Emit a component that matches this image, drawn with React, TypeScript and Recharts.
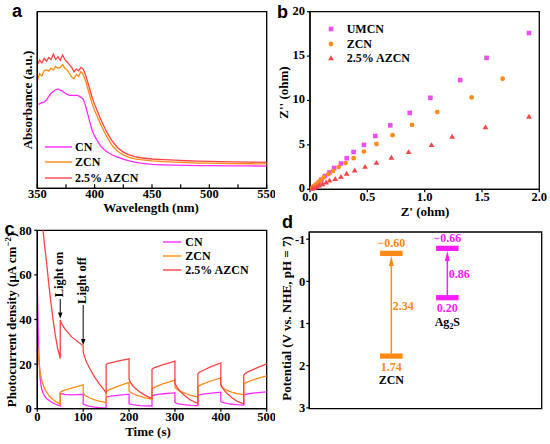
import React from 'react';
import {
  LineChart, Line, ScatterChart, Scatter, ComposedChart, XAxis, YAxis, ZAxis,
  Legend, ReferenceArea, ReferenceLine, ReferenceDot,
} from 'recharts';

/* ── shared styling ─────────────────────────────────────────── */
const SERIF = '"Liberation Serif", "Times New Roman", serif';
const SANS = '"Liberation Sans", Arial, sans-serif';
const AXIS = { stroke: '#000', strokeWidth: 1.3 };
const TICKLINE = { stroke: '#000', strokeWidth: 1.2 };
const TICK = { fontFamily: SERIF, fontWeight: 700, fontSize: 12.5, fill: '#000' };
const AX_W = 30; // y-axis box width
const AX_H = 25; // x-axis box height

const MAGENTA = '#ff2bff';
const ORANGE = '#ff8a14';
const RED = '#ff4242';

/* ── (a) UV-vis absorbance ──────────────────────────────────── */
const aWave = [350, 352, 354, 356, 358, 360, 362, 364, 366, 368, 370, 372, 374, 376, 378, 380, 382, 384, 386, 388, 390, 392, 394, 396, 398,
  400, 405, 410, 415, 420, 425, 430, 435, 440, 450, 460, 470, 480, 490, 500, 520, 535, 550];
const aCN = [47.5, 47.8, 48.5, 48.8, 50, 52, 53.8, 55, 55.8, 56.3, 55.6, 55, 54, 53.2, 52.6, 52.7, 52.5, 52.8, 52.4, 51.5, 50.5, 47, 42, 37, 32.5,
  29.5, 24, 21, 19, 17.6, 16.5, 15.5, 14.8, 14.3, 13.6, 13.3, 13.1, 12.95, 12.85, 12.8, 12.7, 12.65, 12.6];
const aZCN = [61, 65, 63.5, 66.5, 67, 66.5, 68, 67, 69, 68, 68.5, 70, 68, 67, 65, 63, 62, 64.5, 63.5, 66, 64.5, 61, 56.5, 52, 47.5,
  44, 36.5, 29.8, 24.5, 21, 18.9, 17.5, 16.7, 16.2, 15.5, 15.1, 14.8, 14.5, 14.3, 14.2, 14.0, 13.9, 13.8];
const aAZCN = [70, 72.5, 71, 73.5, 72, 74, 72.8, 76, 73, 74.5, 72.5, 75.5, 73, 71.5, 70, 68.5, 66, 67.5, 66.5, 68.5, 67.5, 64.5, 60, 55.5, 51,
  47.5, 39.5, 32.5, 27, 23, 20.5, 18.9, 17.9, 17.3, 16.6, 16.2, 15.9, 15.6, 15.4, 15.2, 15.0, 14.8, 14.7];
const aTicks = [350, 375, 400, 425, 450, 475, 500, 525, 550];
const aOrder = ['CN', 'ZCN', '2.5% AZCN'];

/* ── (b) Nyquist plot ───────────────────────────────────────── */
const bUMCNx = [0.02, 0.03, 0.04, 0.06, 0.08, 0.10, 0.13, 0.17, 0.21, 0.27, 0.32, 0.38, 0.47, 0.57, 0.70, 0.87, 1.05, 1.31, 1.54, 1.91];
const bUMCNy = [0.1, 0.2, 0.35, 0.55, 0.8, 1.1, 1.5, 1.9, 2.4, 2.9, 3.5, 4.2, 5.0, 6.0, 7.2, 8.6, 10.3, 12.3, 14.8, 17.6];
const bZCNx = [0.02, 0.03, 0.05, 0.07, 0.09, 0.12, 0.16, 0.20, 0.25, 0.31, 0.38, 0.47, 0.58, 0.72, 0.89, 1.11, 1.41, 1.68];
const bZCNy = [0.15, 0.3, 0.5, 0.75, 1.0, 1.35, 1.7, 2.05, 2.5, 2.95, 3.5, 4.25, 5.1, 6.1, 7.25, 8.7, 10.35, 12.45];
const bAZCNx = [0.02, 0.04, 0.06, 0.08, 0.11, 0.14, 0.17, 0.22, 0.27, 0.32, 0.39, 0.48, 0.58, 0.71, 0.86, 1.06, 1.24, 1.53, 1.91];
const bAZCNy = [0.1, 0.2, 0.3, 0.45, 0.6, 0.8, 1.0, 1.18, 1.43, 1.78, 2.15, 2.55, 3.0, 3.58, 4.22, 5.0, 5.95, 7.0, 8.2];
const bXTicks = [0, 0.5, 1, 1.5, 2];
const bYTicks = [0, 5, 10, 15, 20];
const bOrder = ['UMCN', 'ZCN', '2.5% AZCN'];

/* ── (c) transient photocurrent ─────────────────────────────── */
const cTime = [0, 2, 4, 6, 8, 10, 13, 16, 20, 25, 30, 35, 40, 45, 50,
  50, 53, 60, 75, 100,
  100, 103, 108, 115, 125, 135, 150,
  150, 153, 160, 175, 200,
  200, 203, 208, 215, 225, 235, 250,
  250, 253, 260, 275, 300,
  300, 303, 308, 315, 325, 335, 350,
  350, 353, 360, 375, 400,
  400, 403, 408, 415, 425, 435, 450,
  450, 453, 460, 475, 500];
const cCN = [57, 35, 22, 14, 10.5, 8.5, 6.8, 5.6, 4.6, 3.8, 3.1, 2.5, 2.0, 1.6, 1.3,
  6.8, 6.7, 6.4, 6.2, 6.4,
  2.2, 1.8, 1.4, 1.0, 0.7, 0.5, 0.3,
  5.1, 5.3, 5.6, 6.0, 6.5,
  2.2, 2.0, 1.8, 1.6, 1.4, 1.3, 1.2,
  5.8, 6.0, 6.3, 6.7, 7.1,
  2.8, 2.5, 2.2, 1.9, 1.7, 1.5, 1.4,
  6.0, 6.2, 6.5, 6.9, 7.4,
  3.2, 2.9, 2.6, 2.3, 2.0, 1.8, 1.6,
  6.2, 6.4, 6.7, 7.1, 7.5];
const cZCN = [30, 24, 20, 17, 14.5, 12.5, 10.5, 9, 7.5, 6, 4.9, 4, 3.2, 2.6, 2.0,
  7.3, 7.8, 8.3, 9.2, 10.7,
  7.0, 6.3, 5.5, 4.8, 4.0, 3.4, 2.8,
  7.7, 8.1, 8.8, 10.0, 11.8,
  8.0, 7.4, 6.8, 6.2, 5.5, 4.9, 4.3,
  8.8, 9.3, 10.0, 11.2, 12.8,
  9.6, 8.9, 8.2, 7.5, 6.7, 6.0, 5.2,
  9.8, 10.3, 11.0, 12.2, 13.8,
  10.2, 9.5, 8.8, 8.1, 7.3, 6.8, 6.3,
  11.0, 11.5, 12.2, 13.3, 14.7];
const cAZCN = [120, 110, 102, 95, 89, 84, 79, 73, 66, 56, 47, 39, 32, 26.5, 22.5,
  39.8, 38.2, 35.8, 32.2, 28.2,
  25.5, 23.3, 20.6, 17.8, 14.2, 11.2, 7.2,
  19.8, 20.2, 20.6, 21.3, 22.4,
  13, 11.8, 10.3, 8.9, 7.3, 6.0, 4.6,
  17.6, 18.2, 18.8, 19.8, 21.3,
  11.5, 10.2, 8.6, 7.0, 5.2, 3.8, 2.3,
  15.6, 16.3, 17.0, 18.5, 20.5,
  10.8, 9.6, 8.1, 6.6, 4.8, 3.4, 2.2,
  15.0, 15.8, 16.6, 18.0, 20.1];
const cXTicks = [0, 100, 200, 300, 400, 500];
const cYTicks = [0, 20, 40, 60, 80];
// text anchor (tx, ty) and arrow from y0 down to y1 at time t
const cNotes = [
  { text: 'Light on', tx: 57, ty: 60.2, t: 50, y0: 49.2, y1: 40.4 },
  { text: 'Light off', tx: 106.5, ty: 57.5, t: 100, y0: 46.5, y1: 28.6 },
];

/* ── (d) band positions ─────────────────────────────────────── */
const dName = ['ZCN', 'Ag_2S'];
const dX = [3.53, 5.94];
const dCB = [-0.60, -0.72];   // lower edge of CB bar as drawn
const dVB = [1.71, 0.325];    // upper edge of VB bar as drawn
const dCBText = ['\u22120.60', '\u22120.66'];
const dVBText = ['1.74', '0.20'];
const dGapText = ['2.34', '0.86'];
const dColor = [ORANGE, '#ff1cff'];
const dYTicks = [-1, 0, 1, 2, 3];
const BAR_HALF = 0.485;
const BAR_THICK = 0.125;

/* ── helpers ────────────────────────────────────────────────── */
const Marker = ({ type, color, cx, cy }: any) => {
  if (type === 'square') return <rect x={cx - 2.3} y={cy - 2.3} width={4.6} height={4.6} fill={color} />;
  if (type === 'triangle') return <polygon points={`${cx},${cy - 2.7} ${cx + 2.9},${cy + 2.2} ${cx - 2.9},${cy + 2.2}`} fill={color} />;
  return <circle cx={cx} cy={cy} r={2.4} fill={color} />;
};

const LegendRows = ({ payload, order, lineLen, rowH, gap, marker }: any) => {
  const rows = [...(payload || [])].sort((p: any, q: any) => order.indexOf(p.value) - order.indexOf(q.value));
  return (
    <div style={{ fontFamily: SERIF, fontWeight: 700, fontSize: 12, color: '#000', lineHeight: 1 }}>
      {rows.map((e: any) => (
        <div key={e.value} style={{ display: 'flex', alignItems: 'center', height: rowH }}>
          <svg width={lineLen} height={8} style={{ display: 'block' }}>
            {marker
              ? <Marker type={e.type} color={e.color} cx={lineLen / 2} cy={4} />
              : <line x1={0} y1={4} x2={lineLen} y2={4} stroke={e.color} strokeWidth={1.4} />}
          </svg>
          <span style={{ marginLeft: gap, whiteSpace: 'nowrap' }}>{e.value}</span>
        </div>
      ))}
    </div>
  );
};

const arrowShape = (color: string, w: number, headLen: number, headW: number) => (p: any) => {
  const { x1, y1, x2, y2 } = p;
  const dx = x2 - x1, dy = y2 - y1;
  const len = Math.hypot(dx, dy) || 1;
  const ux = dx / len, uy = dy / len;
  const bx = x2 - ux * headLen, by = y2 - uy * headLen;
  const pts = `${x2},${y2} ${bx - uy * headW / 2},${by + ux * headW / 2} ${bx + uy * headW / 2},${by - ux * headW / 2}`;
  return (
    <g>
      <line x1={x1} y1={y1} x2={bx} y2={by} stroke={color} strokeWidth={w} />
      <polygon points={pts} fill={color} />
    </g>
  );
};

const textShape = (text: string, opts: { color?: string; anchor?: string; size?: number; rotate?: boolean } = {}) => (p: any) => {
  const { color = '#000', anchor = 'middle', size = 12, rotate = false } = opts;
  const m = text.match(/^(.*)_(\d)(.*)$/);
  return (
    <text x={p.cx} y={p.cy} textAnchor={anchor} fill={color} fontFamily={SERIF} fontWeight={700} fontSize={size}
      transform={rotate ? `rotate(-90 ${p.cx} ${p.cy})` : undefined}>
      {m ? (<>{m[1]}<tspan dy={3} fontSize={size * 0.65}>{m[2]}</tspan><tspan dy={-3}>{m[3]}</tspan></>) : text}
    </text>
  );
};

/* ── panels ─────────────────────────────────────────────────── */
function PanelA() {
  const data = aWave.map((w, i) => ({ w, cn: aCN[i], zcn: aZCN[i], azcn: aAZCN[i] }));
  return (
    <LineChart width={275} height={222} data={data} margin={{ top: 11.7, right: 8.3, bottom: 33.7 - AX_H, left: 37.3 - AX_W }}>
      <XAxis dataKey="w" type="number" domain={[350, 550]} ticks={aTicks} interval={0} height={AX_H}
        tickFormatter={(v: number) => (v % 50 === 0 ? String(v) : '')}
        tick={TICK} tickSize={-4} tickMargin={5} axisLine={AXIS} tickLine={TICKLINE} />
      <YAxis type="number" domain={[0, 100]} width={AX_W} tick={false} tickLine={false} axisLine={AXIS} />
      <ReferenceArea x1={350} x2={550} y1={0} y2={100} fill="none" stroke="#000" strokeWidth={1.3} />
      <Line dataKey="cn" name="CN" type="linear" stroke={MAGENTA} strokeWidth={1.3} dot={false} activeDot={false} isAnimationActive={false} />
      <Line dataKey="zcn" name="ZCN" type="linear" stroke={ORANGE} strokeWidth={1.3} dot={false} activeDot={false} isAnimationActive={false} />
      <Line dataKey="azcn" name="2.5% AZCN" type="linear" stroke={RED} strokeWidth={1.3} dot={false} activeDot={false} isAnimationActive={false} />
      <Legend layout="vertical" align="center" verticalAlign="middle" wrapperStyle={{ left: 45, top: 139, width: 'auto' }}
        content={(p: any) => <LegendRows payload={p.payload} order={aOrder} lineLen={27} rowH={15.5} gap={3} />} />
    </LineChart>
  );
}

function PanelB() {
  const umcn = bUMCNx.map((x, i) => ({ x, y: bUMCNy[i] }));
  const zcn = bZCNx.map((x, i) => ({ x, y: bZCNy[i] }));
  const azcn = bAZCNx.map((x, i) => ({ x, y: bAZCNy[i] }));
  const UMCN_C = '#ee4ef0', ZCN_C = '#ff8c1a', AZCN_C = '#f44646';
  return (
    <ScatterChart width={275} height={222} margin={{ top: 11.7, right: 10.7, bottom: 32.7 - AX_H, left: 35 - AX_W }}>
      <XAxis dataKey="x" type="number" domain={[0, 2]} ticks={bXTicks} interval={0} height={AX_H}
        tickFormatter={(v: number) => v.toFixed(1)} tick={TICK} tickSize={3} tickMargin={0} axisLine={AXIS} tickLine={TICKLINE} />
      <YAxis dataKey="y" type="number" domain={[0, 20]} ticks={bYTicks} interval={0} width={AX_W}
        tick={{ ...TICK, dy: -1.5 }} tickSize={3} tickMargin={2} axisLine={AXIS} tickLine={TICKLINE} />
      <ZAxis range={[20, 20]} />
      <ReferenceArea x1={0} x2={2} y1={0} y2={20} fill="none" stroke="#000" strokeWidth={1.3} />
      <Scatter name="UMCN" data={umcn} fill={UMCN_C} legendType="square" isAnimationActive={false}
        shape={(p: any) => <Marker type="square" color={UMCN_C} cx={p.cx} cy={p.cy} />} />
      <Scatter name="ZCN" data={zcn} fill={ZCN_C} legendType="circle" isAnimationActive={false}
        shape={(p: any) => <Marker type="circle" color={ZCN_C} cx={p.cx} cy={p.cy} />} />
      <Scatter name="2.5% AZCN" data={azcn} fill={AZCN_C} legendType="triangle" isAnimationActive={false}
        shape={(p: any) => <Marker type="triangle" color={AZCN_C} cx={p.cx} cy={p.cy} />} />
      <Legend layout="vertical" align="center" verticalAlign="middle" wrapperStyle={{ left: 49, top: 21.7, width: 'auto' }}
        content={(p: any) => <LegendRows payload={p.payload} order={bOrder} lineLen={14} rowH={14.6} gap={8.7} marker />} />
    </ScatterChart>
  );
}

function PanelC() {
  const data = cTime.map((t, i) => ({ t, cn: cCN[i], zcn: cZCN[i], azcn: cAZCN[i] }));
  return (
    <LineChart width={275} height={222} data={data} margin={{ top: 8.3, right: 8.3, bottom: 35.3 - AX_H, left: 37.3 - AX_W }}>
      <XAxis dataKey="t" type="number" domain={[0, 500]} ticks={cXTicks} interval={0} height={AX_H}
        tick={TICK} tickSize={3} tickMargin={0.5} axisLine={AXIS} tickLine={TICKLINE} />
      <YAxis type="number" domain={[0, 80]} ticks={cYTicks} interval={0} width={AX_W} allowDataOverflow
        tick={TICK} tickSize={3} tickMargin={2.6} axisLine={AXIS} tickLine={TICKLINE} />
      <ReferenceArea x1={0} x2={500} y1={0} y2={80} fill="none" stroke="#000" strokeWidth={1.3} />
      <Line dataKey="cn" name="CN" type="linear" stroke={MAGENTA} strokeWidth={1.3} dot={false} activeDot={false} isAnimationActive={false} />
      <Line dataKey="zcn" name="ZCN" type="linear" stroke={ORANGE} strokeWidth={1.3} dot={false} activeDot={false} isAnimationActive={false} />
      <Line dataKey="azcn" name="2.5% AZCN" type="linear" stroke={RED} strokeWidth={1.3} dot={false} activeDot={false} isAnimationActive={false} />
      {cNotes.map(n => (
        <ReferenceLine key={n.text + 'a'} segment={[{ x: n.t, y: n.y0 }, { x: n.t, y: n.y1 }]}
          shape={arrowShape('#000', 1, 6, 4.5)} />
      ))}
      {cNotes.map(n => (
        <ReferenceDot key={n.text} x={n.tx} y={n.ty} r={0} shape={textShape(n.text, { size: 12.5, rotate: true })} />
      ))}
      <Legend layout="vertical" align="center" verticalAlign="middle" wrapperStyle={{ left: 163.3, top: 13, width: 'auto' }}
        content={(p: any) => <LegendRows payload={p.payload} order={aOrder} lineLen={18.4} rowH={14} gap={3.6} />} />
    </LineChart>
  );
}

function PanelD() {
  const data = dX.map((x, i) => ({ x, cb: dCB[i], vb: dVB[i] }));
  return (
    <ComposedChart width={275} height={222} data={data} margin={{ top: 10, right: 8.3, bottom: 35.3, left: 34.3 - AX_W }}>
      <XAxis dataKey="x" type="number" domain={[0, 10]} hide />
      <YAxis type="number" domain={[-1.17, 3.02]} reversed ticks={dYTicks} interval={0} width={AX_W} allowDataOverflow
        tick={TICK} tickSize={3} tickMargin={1} axisLine={AXIS} tickLine={TICKLINE} />
      {/* carrier series so the chart lays out its axes; draws nothing itself */}
      <Scatter dataKey="cb" fill="none" isAnimationActive={false} shape={() => <g />} legendType="none" />
      <ReferenceArea x1={0} x2={10} y1={-1.17} y2={3.02} fill="none" stroke="#000" strokeWidth={1.3} />
      {dX.map((x, i) => (
        <ReferenceArea key={'cb' + i} x1={x - BAR_HALF} x2={x + BAR_HALF} y1={dCB[i] - BAR_THICK} y2={dCB[i]}
          fill={dColor[i]} fillOpacity={1} stroke="none" />
      ))}
      {dX.map((x, i) => (
        <ReferenceArea key={'vb' + i} x1={x - BAR_HALF} x2={x + BAR_HALF} y1={dVB[i]} y2={dVB[i] + BAR_THICK}
          fill={dColor[i]} fillOpacity={1} stroke="none" />
      ))}
      {dX.map((x, i) => (
        <ReferenceLine key={'ar' + i} segment={[{ x, y: dVB[i] }, { x, y: dCB[i] }]}
          shape={arrowShape(dColor[i], 1.5, 10, 5)} />
      ))}
      {dX.map((x, i) => (
        <ReferenceDot key={'t1' + i} x={x} y={dCB[i] - BAR_THICK - 0.09} r={0} shape={textShape(dCBText[i], { color: dColor[i] })} />
      ))}
      {dX.map((x, i) => (
        <ReferenceDot key={'t2' + i} x={x} y={dVB[i] + BAR_THICK + 0.28} r={0} shape={textShape(dVBText[i], { color: dColor[i] })} />
      ))}
      {dX.map((x, i) => (
        <ReferenceDot key={'t3' + i} x={x} y={dVB[i] + BAR_THICK + 0.61} r={0} shape={textShape(dName[i])} />
      ))}
      {dX.map((x, i) => (
        <ReferenceDot key={'t4' + i} x={x + 0.06} y={(dCB[i] + dVB[i]) / 2 + 0.13} r={0}
          shape={textShape(dGapText[i], { color: dColor[i], anchor: 'start' })} />
      ))}
    </ComposedChart>
  );
}

/* ── figure ─────────────────────────────────────────────────── */
const TITLE = { fontFamily: SERIF, fontWeight: 700, fontSize: 13, fill: '#000' } as const;
const LETTER = { fontFamily: SANS, fontWeight: 700, fontSize: 18, fill: '#000' } as const;

export default function App() {
  return (
    <div style={{ position: 'absolute', left: 0, top: 0, width: 550, height: 444, background: '#fff', overflow: 'hidden' }}>
      <div style={{ position: 'absolute', left: 0, top: 0 }}><PanelA /></div>
      <div style={{ position: 'absolute', left: 275, top: 0 }}><PanelB /></div>
      <div style={{ position: 'absolute', left: 0, top: 222 }}><PanelC /></div>
      <div style={{ position: 'absolute', left: 275, top: 222 }}><PanelD /></div>
      <svg width={550} height={444} style={{ position: 'absolute', left: 0, top: 0, pointerEvents: 'none' }}>
        <text x={12} y={16.7} {...LETTER}>a</text>
        <text x={277} y={17.5} {...LETTER}>b</text>
        <text x={4.5} y={234.7} {...LETTER}>c</text>
        <text x={282} y={227.5} {...LETTER}>d</text>

        <text {...TITLE} textAnchor="middle" transform="translate(31.5 100) rotate(-90)">Absorbance (a.u.)</text>
        <text {...TITLE} textAnchor="middle" x={151} y={212}>Wavelength (nm)</text>

        <text {...TITLE} textAnchor="middle" transform="translate(288 92.5) rotate(-90)">Z'' (ohm)</text>
        <text {...TITLE} textAnchor="middle" x={425} y={215.5}>Z' (ohm)</text>

        <text {...TITLE} textAnchor="middle" transform="translate(15.5 320) rotate(-90)">
          Photocurrent density (μA cm<tspan dy={-5} fontSize={9}>−2</tspan><tspan dy={5}>)</tspan>
        </text>
        <text {...TITLE} textAnchor="middle" x={148} y={435.5}>Time (s)</text>

        <text {...TITLE} textAnchor="middle" transform="translate(291 318.5) rotate(-90)">Potential (V vs. NHE, pH = 7)</text>
      </svg>
    </div>
  );
}
